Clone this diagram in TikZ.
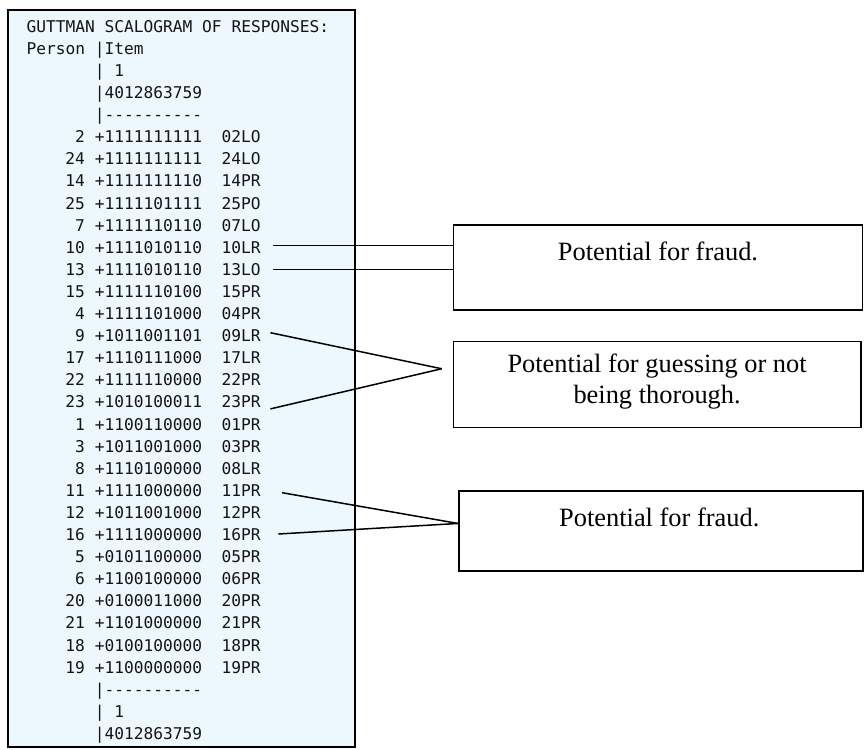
\documentclass[tikz,border=0pt]{standalone}
\usepackage{fontspec}
\setmainfont{Liberation Serif}
\setmonofont{DejaVu Sans Mono}
\usepackage{xcolor}
\usepackage{tikz}
\usetikzlibrary{positioning}

\definecolor{panelblue}{RGB}{236,248,253}
\definecolor{codegray}{RGB}{20,20,20}

\begin{document}
\begin{tikzpicture}[x=1pt, y=-1pt,
    mono/.style={font=\ttfamily\fontsize{16.2}{22.1}\selectfont, text=codegray, inner sep=0pt, anchor=base west},
    notebox/.style={draw, line width=1.5pt, inner sep=0pt, anchor=north west},
    notetext/.style={font=\fontsize{26.4}{30.6}\selectfont, inner sep=0pt, anchor=base},
    link/.style={line width=1.5pt}]
    \useasboundingbox (0,0) rectangle (864,749);
    \draw[line width=1.8pt, fill=panelblue] (8,10) rectangle (355,747);
    % scalogram head
    \node[mono] (title) at (26.5,32.2) {GUTTMAN SCALOGRAM OF RESPONSES:};
    \node[mono] (person) at (26.5,54.3) {Person};
    \node[mono] (itemhead) at (94.75,54.3) {|Item};
    \node[mono] (topten) at (94.75,76.4) {| 1};
    \node[mono] (topdigits) at (94.75,98.5) {|4012863759};
    \node[mono] (toprule) at (94.75,120.6) {|----------};
    % one row per person
    \foreach \num/\pat/\lab [count=\i from 0] in {2/1111111111/02LO, 24/1111111111/24LO,
        14/1111111110/14PR, 25/1111101111/25PO, 7/1111110110/07LO, 10/1111010110/10LR,
        13/1111010110/13LO, 15/1111110100/15PR, 4/1111101000/04PR, 9/1011001101/09LR,
        17/1110111000/17LR, 22/1111110000/22PR, 23/1010100011/23PR, 1/1100110000/01PR,
        3/1011001000/03PR, 8/1110100000/08LR, 11/1111000000/11PR, 12/1011001000/12PR,
        16/1111000000/16PR, 5/0101100000/05PR, 6/1100100000/06PR, 20/0100011000/20PR,
        21/1101000000/21PR, 18/0100100000/18PR, 19/1100000000/19PR} {
        \node[mono, anchor=base east] (n\lab) at (85,{142.7+22.1*\i}) {\num};
        \node[mono] (p\lab) at (94.75,{142.7+22.1*\i}) {+\pat};
        \node[mono] (r\lab) at (221.5,{142.7+22.1*\i}) {\lab};
    }
    % scalogram foot
    \node[mono] (botrule) at (94.75,695.2) {|----------};
    \node[mono] (botten) at (94.75,717.3) {| 1};
    \node[mono] (botdigits) at (94.75,739.4) {|4012863759};
    % where the lines start
    \coordinate (s10) at ([xshift=12.5pt,yshift=1.6pt]r10LR.east);
    \coordinate (s13) at ([xshift=12.5pt]r13LO.east);
    \coordinate (s09) at ([xshift=9.5pt,yshift=3pt]r09LR.east);
    \coordinate (s23) at ([xshift=9.5pt,yshift=-6.9pt]r23PR.east);
    \coordinate (s11) at ([xshift=21.2pt,yshift=-2.3pt]r11PR.east);
    \coordinate (s16) at ([xshift=17.5pt,yshift=0.6pt]r16PR.east);
    % notes
    \node[notebox, minimum width=409pt, minimum height=85pt] (fraudA) at (452.7,224) {};
    \node[notebox, minimum width=407.3pt, minimum height=86pt] (guessB) at (452.7,340.7) {};
    \node[notebox, minimum width=404pt, minimum height=80pt] (fraudC) at (458,490) {};
    \node[notetext] (fraudAtext) at ([yshift=-36.7pt]fraudA.north) {Potential for fraud.};
    \node[notetext] (guessBtext) at ([yshift=-32pt]guessB.north) {Potential for guessing or not};
    \node[notetext] (guessBtextb) at ([yshift=-62.8pt]guessB.north) {being thorough.};
    \node[notetext] (fraudCtext) at ([xshift=-1.5pt,yshift=-36pt]fraudC.north) {Potential for fraud.};
    \coordinate (guessBtip) at ([xshift=-11pt,yshift=15.7pt]guessB.west);
    \coordinate (fraudCtip) at ([yshift=7.3pt]fraudC.west);
    \draw[link] (s10) -- (s10 -| fraudA.west);
    \draw[link] (s13) -- (s13 -| fraudA.west);
    \draw[link] (s09) -- (guessBtip);
    \draw[link] (s23) -- (guessBtip);
    \draw[link] (s11) -- (fraudCtip);
    \draw[link] (s16) -- (fraudCtip);
\end{tikzpicture}
\end{document}
